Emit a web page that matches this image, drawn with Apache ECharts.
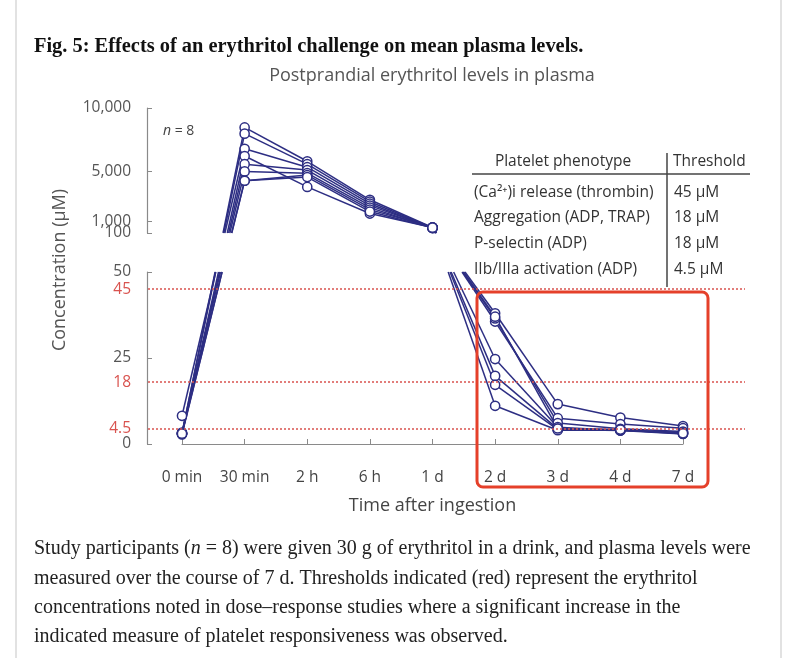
<!DOCTYPE html>
<html><head><meta charset="utf-8">
<script src="https://cdn.jsdelivr.net/npm/echarts@6/dist/echarts.min.js"></script>
<style>html,body{margin:0;padding:0;background:#fff}#c{width:799px;height:658px}</style>
</head><body><div id="c"></div>
<script>
// ---- data ----
const categories = ['0 min','30 min','2 h','6 h','1 d','2 d','3 d','4 d','7 d'];
const participant1 = [3.0, 8460, 5780, 2730, 540, 38.0, 11.6, 7.7, 5.2];
const participant2 = [3.2, 7970, 5550, 2580, 520, 35.6, 7.5, 5.8, 4.6];
const participant3 = [8.2, 6770, 5310, 2420, 500, 36.5, 6.1, 4.4, 3.6];
const participant4 = [2.9, 6200, 3750, 1640, 530, 24.7, 4.9, 3.9, 3.4];
const participant5 = [3.1, 5550, 5080, 2270, 510, 19.8, 4.4, 4.1, 3.0];
const participant6 = [3.3, 4980, 4840, 2110, 490, 17.2, 4.2, 3.9, 2.9];
const participant7 = [2.8, 4240, 4690, 1950, 550, 11.1, 4.0, 4.0, 3.2];
const participant8 = [3.0, 4240, 4530, 1800, 520, 37.0, 4.5, 4.2, 3.1];
const participants = [participant1, participant2, participant3, participant4,
                      participant5, participant6, participant7, participant8];
const upperRange = [100, 10000];
const lowerRange = [0, 50];
const upperTickValues = [100, 1000, 5000, 10000];
const upperLabelValues = [100, 5000, 10000];
const upperCloseLabelValues = [1000];
const lowerTickValues = [0, 25, 50];
const lowerLabelValues = [0, 18, 25, 45, 50];
const lowerCloseLabelValues = [4.5];
const thresholdValues = [45, 18, 4.5];
const phenotypes = ['(Ca\u00B2\u207A)i release (thrombin)', 'Aggregation (ADP, TRAP)', 'P-selectin (ADP)', 'IIb/IIIa activation (ADP)'];
const thresholdLabels = ['45 \u03BCM', '18 \u03BCM', '18 \u03BCM', '4.5 \u03BCM'];
const captionLines = [
  'Study participants ({i|n} = 8) were given 30 g of erythritol in a drink, and plasma levels were',
  'measured over the course of 7 d. Thresholds indicated (red) represent the erythritol',
  'concentrations noted in dose\u2013response studies where a significant increase in the',
  'indicated measure of platelet responsiveness was observed.'
];

// ---- styles ----
const NAVY = '#2d2e83';
const RED = '#d9534f';
const GRAY = '#555';
const AXIS = '#8a8a8a';
const SANS = '"Open Sans", sans-serif';
const SERIF = '"Liberation Serif", serif';
const LBL = 15.5;

const chart = echarts.init(document.getElementById('c'), null, {renderer: 'canvas'});

// Broken-axis drawing: each value is placed through the axis of the panel it falls in
// (upper: 100-10,000, lower: 0-50); segments that cross the break are straight in
// screen space and hidden inside the gap, as in a broken-axis plot.
function toPixel(ci, v) {
  const g = v > lowerRange[1] ? 0 : 1;
  return chart.convertToPixel({gridIndex: g}, [ci, v]);
}
function renderParticipant(params, api) {
  const p = participants[api.value(0)];
  const pts = p.map((v, ci) => toPixel(ci, v));
  const yLowTop = chart.convertToPixel({gridIndex: 1}, [0, lowerRange[1]])[1];
  const yUpBottom = chart.convertToPixel({gridIndex: 0}, [0, upperRange[0]])[1];
  const lineStyle = {stroke: NAVY, lineWidth: 1.5, fill: null};
  const children = [];
  for (let i = 0; i < p.length - 1; i++) {
    const a = pts[i], b = pts[i + 1];
    const ga = p[i] > lowerRange[1], gb = p[i + 1] > lowerRange[1];
    if (ga === gb) {
      children.push({type: 'line', shape: {x1: a[0], y1: a[1], x2: b[0], y2: b[1]}, style: lineStyle, z2: 1});
    } else {
      const lo = ga ? b : a, hi = ga ? a : b;
      const xAt = y => lo[0] + (hi[0] - lo[0]) * (lo[1] - y) / (lo[1] - hi[1]);
      children.push({type: 'line', shape: {x1: lo[0], y1: lo[1], x2: xAt(yLowTop), y2: yLowTop}, style: lineStyle, z2: 1});
      children.push({type: 'line', shape: {x1: xAt(yUpBottom), y1: yUpBottom, x2: hi[0], y2: hi[1]}, style: lineStyle, z2: 1});
    }
  }
  pts.forEach(pt => {
    children.push({type: 'circle', shape: {cx: pt[0], cy: pt[1], r: 4.6},
      style: {fill: '#fff', stroke: NAVY, lineWidth: 1.5}, z2: 10});
  });
  return {type: 'group', children: children};
}

const series = [
  {type: 'custom', coordinateSystem: 'none', data: participants.map((_, i) => [i]),
   renderItem: renderParticipant, silent: true, z: 3},
  {type: 'line', xAxisIndex: 2, yAxisIndex: 2, data: [], silent: true,
   markLine: {
     silent: true, symbol: 'none', label: {show: false},
     lineStyle: {color: RED, type: [2, 2], width: 1.5},
     data: thresholdValues.map(v => ({yAxis: v}))
   }}
];

const graphic = [
  {type: 'line', shape: {x1: 16, y1: 0, x2: 16, y2: 658}, style: {stroke: '#d8d8d8', lineWidth: 1.5}},
  {type: 'line', shape: {x1: 781, y1: 0, x2: 781, y2: 658}, style: {stroke: '#d8d8d8', lineWidth: 1.5}},
  {type: 'text', x: 34, y: 47, style: {text: 'Fig. 5: Effects of an erythritol challenge on mean plasma levels.', font: 'bold 20.4px ' + SERIF, fill: '#111', verticalAlign: 'middle'}},
  {type: 'text', x: 432, y: 76, style: {text: 'Postprandial erythritol levels in plasma', font: '18px ' + SANS, fill: GRAY, align: 'center', verticalAlign: 'middle'}},
  {type: 'text', x: 60, y: 270, rotation: Math.PI / 2, style: {text: 'Concentration (\u03BCM)', font: '18px ' + SANS, fill: GRAY, align: 'center', verticalAlign: 'middle'}},
  {type: 'text', x: 163, y: 131, style: {text: '{i|n} = 8', font: '14px ' + SANS, fill: '#444', verticalAlign: 'middle', rich: {i: {fontStyle: 'italic', fontFamily: SANS, fontSize: 14, fill: '#444'}}}},
  // table
  {type: 'text', x: 563, y: 162, style: {text: 'Platelet phenotype', font: '15.5px ' + SANS, fill: '#333', align: 'center', verticalAlign: 'middle'}},
  {type: 'text', x: 673, y: 162, style: {text: 'Threshold', font: '15.5px ' + SANS, fill: '#333', verticalAlign: 'middle'}},
  {type: 'line', shape: {x1: 472, y1: 174, x2: 750, y2: 174}, style: {stroke: '#444', lineWidth: 1.5}},
  {type: 'line', shape: {x1: 667, y1: 153, x2: 667, y2: 287}, style: {stroke: '#444', lineWidth: 1.5}},
  // red highlight box
  {type: 'rect', shape: {x: 477, y: 292, width: 231, height: 195, r: 6}, style: {fill: 'none', stroke: '#e5402a', lineWidth: 3}, z: 100}
];
const rowY = [193, 218, 244, 270];
phenotypes.forEach((t, i) => {
  graphic.push({type: 'text', x: 474, y: rowY[i], style: {text: t, font: '15.5px ' + SANS, fill: '#333', verticalAlign: 'middle'}});
  graphic.push({type: 'text', x: 674, y: rowY[i], style: {text: thresholdLabels[i], font: '15.5px ' + SANS, fill: '#333', verticalAlign: 'middle'}});
});
const capY = [549, 579, 608, 637];
captionLines.forEach((t, i) => {
  graphic.push({type: 'text', x: 34, y: capY[i], style: {text: t, font: '20px ' + SERIF, fill: '#222', verticalAlign: 'middle',
    rich: {i: {fontStyle: 'italic', fontFamily: SERIF, fontSize: 20, fill: '#222'}}}});
});

const labelColor = v => thresholdValues.indexOf(Number(v)) >= 0 ? RED : GRAY;
const commaFmt = v => Number(v).toLocaleString('en-US');
function labelOnlyAxis(gridIndex, range, values, fmt, padding) {
  return {type: 'value', gridIndex: gridIndex, position: 'left', offset: 35, min: range[0], max: range[1],
    splitLine: {show: false}, axisLine: {show: false}, axisTick: {show: false},
    axisLabel: {customValues: values, showMinLabel: true, showMaxLabel: true, color: labelColor,
                fontFamily: SANS, fontSize: LBL, margin: 16, formatter: fmt, padding: padding}};
}

const option = {
  animation: false,
  backgroundColor: '#fff',
  grid: [
    {left: 182, width: 501, top: 108, height: 125},
    {left: 182, width: 501, top: 272, height: 172},
    {left: 148, width: 597, top: 272, height: 172}
  ],
  xAxis: [
    {type: 'category', gridIndex: 0, data: categories, boundaryGap: false, show: false},
    {type: 'category', gridIndex: 1, data: categories, boundaryGap: false, offset: 17,
     axisLine: {lineStyle: {color: AXIS, width: 1.2}},
     axisTick: {inside: true, length: 5, interval: 0, lineStyle: {color: AXIS}},
     axisLabel: {color: '#444', fontFamily: SANS, fontSize: LBL, margin: 9, interval: 0},
     name: 'Time after ingestion', nameLocation: 'middle', nameGap: 36,
     nameTextStyle: {color: '#444', fontFamily: SANS, fontSize: 18}},
    {type: 'value', gridIndex: 2, min: 0, max: 1, show: false}
  ],
  yAxis: [
    {type: 'value', gridIndex: 0, position: 'left', min: upperRange[0], max: upperRange[1], offset: 35,
     splitLine: {show: false},
     axisLine: {show: true, lineStyle: {color: AXIS, width: 1.2}},
     axisTick: {show: true, inside: true, length: 5, customValues: upperTickValues, lineStyle: {color: AXIS}},
     axisLabel: {customValues: upperLabelValues, showMinLabel: true, showMaxLabel: true, padding: [4, 0, 0, 0],
                 color: GRAY, fontFamily: SANS, fontSize: LBL, margin: 16, formatter: commaFmt}},
    {type: 'value', gridIndex: 1, position: 'left', min: lowerRange[0], max: lowerRange[1], offset: 35,
     splitLine: {show: false},
     axisLine: {show: true, lineStyle: {color: AXIS, width: 1.2}},
     axisTick: {show: true, inside: true, length: 5, customValues: lowerTickValues, lineStyle: {color: AXIS}},
     axisLabel: {customValues: lowerLabelValues, showMinLabel: true, showMaxLabel: true, padding: [4, 0, 0, 0],
                 fontFamily: SANS, fontSize: LBL, margin: 16, color: labelColor}},
    {type: 'value', gridIndex: 2, min: lowerRange[0], max: lowerRange[1], show: false},
    labelOnlyAxis(0, upperRange, upperCloseLabelValues, commaFmt, [0, 0, 2, 0]),
    labelOnlyAxis(1, lowerRange, lowerCloseLabelValues, v => String(v), [0, 0, 0, 0])
  ],
  series: series,
  graphic: graphic
};
chart.setOption(option);
</script></body></html>
